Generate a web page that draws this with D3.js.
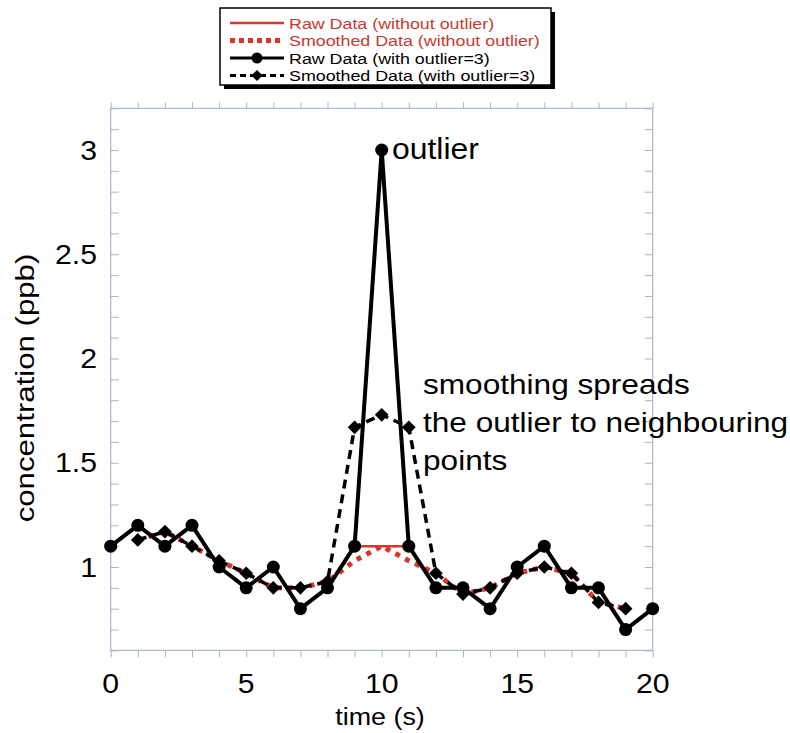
<!DOCTYPE html>
<html lang="en">
	<head>
		<meta charset="utf-8">
		<title>Smoothing outlier</title>
		<script src="https://d3js.org/d3.v7.min.js"></script>
		<style>
			body { margin: 0; background: #fff; }
			text { font-family: "Liberation Sans", Arial, Helvetica, sans-serif; }
		</style>
	</head>
	<body>
		<script type="text/javascript">

			// data
			var time = [0,1,2,3,4,5,6,7,8,9,10,11,12,13,14,15,16,17,18,19,20];
			var rawOutlier = [1.1,1.2,1.1,1.2,1.0,0.9,1.0,0.8,0.9,1.1,3.0,1.1,0.9,0.9,0.8,1.0,1.1,0.9,0.9,0.7,0.8];
			var rawClean   = [1.1,1.2,1.1,1.2,1.0,0.9,1.0,0.8,0.9,1.1,1.1,1.1,0.9,0.9,0.8,1.0,1.1,0.9,0.9,0.7,0.8];
			var smoothTime = [1,2,3,4,5,6,7,8,9,10,11,12,13,14,15,16,17,18,19];
			var smoothOutlier = [1.13,1.17,1.1,1.03,0.97,0.9,0.9,0.93,1.67,1.73,1.67,0.97,0.87,0.9,0.97,1.0,0.97,0.83,0.8];
			var smoothClean   = [1.13,1.17,1.1,1.03,0.97,0.9,0.9,0.93,1.03,1.1,1.03,0.97,0.87,0.9,0.97,1.0,0.97,0.83,0.8];

			var xTicks = [0,5,10,15,20];
			var yTicks = [1,1.5,2,2.5,3];
			var legendLabels = ["Raw Data (without outlier)", "Smoothed Data (without outlier)",
				"Raw Data (with outlier=3)", "Smoothed Data (with outlier=3)"];

			var w = 790, h = 733;
			var red = "#d8352b";
			var axisCol = "#a9b5cc";

			var xScale = d3.scaleLinear().domain([0, 20]).range([110.7, 652.7]);
			var yScale = d3.scaleLinear().domain([1, 3]).range([567, 150]);

			var svg = d3.select("body").append("svg").attr("width", w).attr("height", h);

			// text in the picture is a little wide, so stretch it
			function wtext(g, x, y, str, size, anchor, sx, rot) {
				return g.append("text")
					.attr("transform", "translate(" + x + "," + y + ")" + (rot ? " rotate(" + rot + ")" : "") + " scale(" + sx + ",1)")
					.attr("font-size", size)
					.attr("text-anchor", anchor || "start")
					.text(str);
			}

			//    frame + ticks
			var x0 = xScale(0), x1 = xScale(20), yT = yScale(3.2), yB = yScale(0.6);
			var xMinor = d3.range(0, 21, 1);
			var yMinor = d3.range(6, 33, 1).map(function(d) { return d / 10; });

			svg.append("g").attr("transform", "translate(0," + yB + ")")
				.call(d3.axisBottom(xScale).tickValues(xMinor).tickSize(7).tickFormat(""))
				.call(function(g) { g.select(".domain").remove(); });
			svg.append("g").attr("transform", "translate(0," + yT + ")")
				.call(d3.axisTop(xScale).tickValues(xMinor).tickSize(6).tickFormat(""))
				.call(function(g) { g.select(".domain").remove(); });
			svg.append("g").attr("transform", "translate(" + x0 + ",0)")
				.call(d3.axisRight(yScale).tickValues(yMinor).tickSize(8).tickFormat(""))
				.call(function(g) { g.select(".domain").remove(); });
			svg.append("g").attr("transform", "translate(" + x1 + ",0)")
				.call(d3.axisLeft(yScale).tickValues(yMinor).tickSize(8).tickFormat(""))
				.call(function(g) { g.select(".domain").remove(); });
			svg.selectAll(".tick line").attr("stroke", axisCol).attr("stroke-width", 1);

			svg.append("rect")
				.attr("x", x0).attr("y", yT).attr("width", x1 - x0).attr("height", yB - yT)
				.attr("fill", "none").attr("stroke", axisCol).attr("stroke-width", 1.2);

			// tick labels
			xTicks.forEach(function(t) { wtext(svg, xScale(t), 693, t, 27, "middle", 1.12); });
			yTicks.forEach(function(t) { wtext(svg, 97, yScale(t) + 9.5, t, 27, "end", 1.12); });

			// axis titles
			wtext(svg, 380, 725, "time (s)", 24, "middle", 1.12);
			wtext(svg, 34, 388, "concentration (ppb)", 26, "middle", 1.2, -90);

			//    series
			var line = d3.line().x(function(d) { return xScale(d[0]); }).y(function(d) { return yScale(d[1]); });
			var rawC = d3.zip(time, rawClean), rawO = d3.zip(time, rawOutlier);
			var smC = d3.zip(smoothTime, smoothClean), smO = d3.zip(smoothTime, smoothOutlier);

			svg.append("path").datum(rawC).attr("d", line)
				.attr("fill", "none").attr("stroke", red).attr("stroke-width", 2.5);
			svg.append("path").datum(smC).attr("d", line)
				.attr("fill", "none").attr("stroke", red).attr("stroke-width", 5).attr("stroke-dasharray", "5,6");

			svg.append("path").datum(rawO).attr("d", line)
				.attr("fill", "none").attr("stroke", "#000").attr("stroke-width", 4).attr("stroke-linejoin", "round");
			svg.selectAll("circle.raw").data(rawO).enter().append("circle")
				.attr("class", "raw")
				.attr("cx", function(d) { return xScale(d[0]); })
				.attr("cy", function(d) { return yScale(d[1]); })
				.attr("r", 6.5).attr("fill", "#000");

			svg.append("path").datum(smO).attr("d", line)
				.attr("fill", "none").attr("stroke", "#000").attr("stroke-width", 3.5).attr("stroke-dasharray", "9,6");
			var diamond = d3.symbol().type(d3.symbolDiamond2).size(120);
			svg.selectAll("path.dia").data(smO).enter().append("path")
				.attr("class", "dia").attr("d", diamond)
				.attr("transform", function(d) { return "translate(" + xScale(d[0]) + "," + yScale(d[1]) + ")"; })
				.attr("fill", "#000");

			// annotations
			wtext(svg, 392, 159, "outlier", 29, "start", 1.1);
			wtext(svg, 423, 394, "smoothing spreads", 27, "start", 1.17);
			wtext(svg, 423, 432, "the outlier to neighbouring", 27, "start", 1.17);
			wtext(svg, 423, 470, "points", 27, "start", 1.17);

			//    legend
			var lg = svg.append("g");
			lg.append("rect").attr("x", 224).attr("y", 12).attr("width", 331).attr("height", 77).attr("fill", "#000");
			lg.append("rect").attr("x", 220).attr("y", 8).attr("width", 331).attr("height", 77)
				.attr("fill", "#fff").attr("stroke", "#000").attr("stroke-width", 1.5);
			var rowY = [23, 40.5, 58, 75.5];
			var styles = [
				{ c: red, wd: 2.5, dash: null, mk: null },
				{ c: red, wd: 5, dash: "5,4", mk: null },
				{ c: "#000", wd: 3, dash: null, mk: "circle" },
				{ c: "#000", wd: 3, dash: "6,4", mk: "diamond" }
			];
			legendLabels.forEach(function(lab, i) {
				var s = styles[i], y = rowY[i];
				lg.append("line").attr("x1", 230).attr("x2", 284).attr("y1", y).attr("y2", y)
					.attr("stroke", s.c).attr("stroke-width", s.wd).attr("stroke-dasharray", s.dash);
				if (s.mk === "circle") lg.append("circle").attr("cx", 257).attr("cy", y).attr("r", 5.5).attr("fill", "#000");
				if (s.mk === "diamond") lg.append("path").attr("d", d3.symbol().type(d3.symbolDiamond2).size(80))
					.attr("transform", "translate(257," + y + ")").attr("fill", "#000");
				wtext(lg, 289, y + 5.5, lab, 15, "start", 1.19).attr("fill", i < 2 ? "#c83a2e" : "#000");
			});

		</script>
	</body>
</html>
